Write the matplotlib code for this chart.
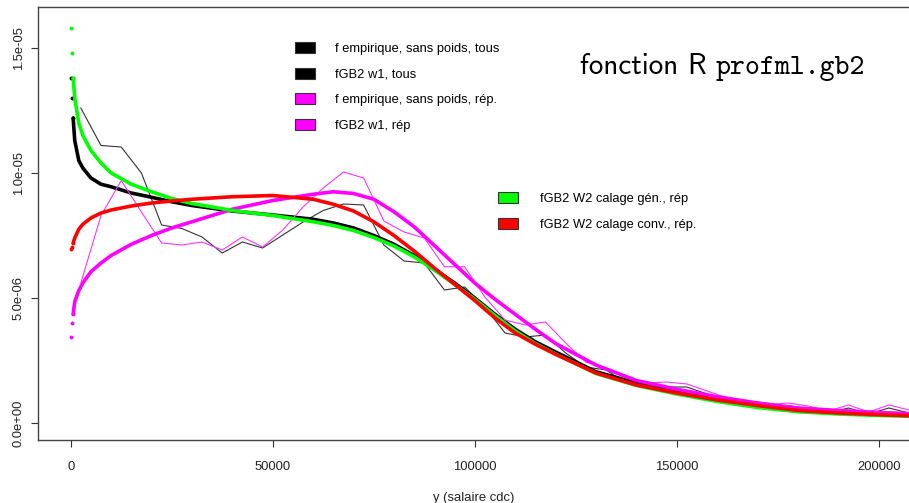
import matplotlib
matplotlib.use("Agg")
import matplotlib.pyplot as plt
from matplotlib.patches import Patch

plt.rcParams['font.family'] = ['Liberation Sans', 'DejaVu Sans']

# smooth fitted curves (x in FCFA, y density)
x_fit = [100, 300, 600, 1000, 2000, 3000, 5000, 7500, 10000, 15000, 20000, 25000, 30000,
         40000, 50000, 60000, 65000, 70000, 75000, 80000, 85000, 90000, 95000, 100000,
         105000, 110000, 115000, 120000, 130000, 140000, 150000, 160000, 170000, 180000,
         190000, 200000, 210000]

gb2_w1_tous = [1.38e-5, 1.30e-5, 1.22e-5, 1.13e-5, 1.05e-5, 1.02e-5, 9.8e-6, 9.55e-6, 9.45e-6,
               9.2e-6, 9.03e-6, 8.85e-6, 8.7e-6, 8.48e-6, 8.32e-6, 8.15e-6, 8.0e-6, 7.8e-6,
               7.5e-6, 7.15e-6, 6.7e-6, 6.15e-6, 5.6e-6, 5.0e-6, 4.35e-6, 3.75e-6, 3.25e-6,
               2.84e-6, 2.05e-6, 1.6e-6, 1.28e-6, 1.0e-6, 0.78e-6, 0.55e-6, 0.44e-6, 0.38e-6,
               0.32e-6]

gb2_w1_rep = [3.45e-6, 4.0e-6, 4.35e-6, 4.85e-6, 5.3e-6, 5.6e-6, 6.05e-6, 6.4e-6, 6.7e-6,
              7.15e-6, 7.5e-6, 7.8e-6, 8.05e-6, 8.55e-6, 8.9e-6, 9.15e-6, 9.25e-6, 9.18e-6,
              8.95e-6, 8.45e-6, 7.85e-6, 7.1e-6, 6.35e-6, 5.6e-6, 4.95e-6, 4.35e-6, 3.75e-6,
              3.18e-6, 2.32e-6, 1.7e-6, 1.35e-6, 1.05e-6, 0.8e-6, 0.6e-6, 0.5e-6, 0.42e-6,
              0.36e-6]

gb2_w2_gen = [1.58e-5, 1.48e-5, 1.38e-5, 1.30e-5, 1.20e-5, 1.15e-5, 1.09e-5, 1.04e-5, 1.0e-5,
              9.55e-6, 9.25e-6, 8.98e-6, 8.78e-6, 8.5e-6, 8.3e-6, 8.05e-6, 7.9e-6, 7.7e-6,
              7.42e-6, 7.08e-6, 6.65e-6, 6.12e-6, 5.55e-6, 4.95e-6, 4.3e-6, 3.68e-6, 3.18e-6,
              2.76e-6, 1.98e-6, 1.5e-6, 1.16e-6, 0.86e-6, 0.62e-6, 0.45e-6, 0.36e-6, 0.3e-6,
              0.26e-6]

gb2_w2_conv = [6.95e-6, 7.05e-6, 7.2e-6, 7.4e-6, 7.75e-6, 7.95e-6, 8.2e-6, 8.4e-6, 8.52e-6,
               8.68e-6, 8.8e-6, 8.88e-6, 8.95e-6, 9.05e-6, 9.1e-6, 8.95e-6, 8.75e-6, 8.48e-6,
               8.05e-6, 7.5e-6, 6.88e-6, 6.2e-6, 5.55e-6, 4.9e-6, 4.2e-6, 3.6e-6, 3.15e-6,
               2.75e-6, 2.0e-6, 1.52e-6, 1.2e-6, 0.92e-6, 0.7e-6, 0.5e-6, 0.4e-6, 0.33e-6,
               0.28e-6]

# empirical densities, bins of 5000
x_emp = [2500 + 5000 * i for i in range(42)]

emp_tous = [1.26e-5, 1.11e-5, 1.104e-5, 1.0e-5, 7.92e-6, 7.78e-6, 7.44e-6, 6.8e-6, 7.24e-6,
            7.0e-6, 7.52e-6, 8.04e-6, 8.5e-6, 8.76e-6, 8.72e-6, 7.12e-6, 6.48e-6, 6.4e-6,
            5.32e-6, 5.44e-6, 4.64e-6, 3.6e-6, 3.44e-6, 3.52e-6, 2.8e-6, 2.24e-6, 2.12e-6,
            1.6e-6, 1.48e-6, 1.44e-6, 1.44e-6, 1.16e-6, 0.96e-6, 0.8e-6, 0.68e-6, 0.7e-6,
            0.56e-6, 0.4e-6, 0.6e-6, 0.36e-6, 0.6e-6, 0.4e-6]

emp_rep = [5.6e-6, 8.3e-6, 9.7e-6, 8.44e-6, 7.2e-6, 7.12e-6, 7.24e-6, 6.92e-6, 7.44e-6,
           7.04e-6, 7.72e-6, 8.64e-6, 9.4e-6, 1.004e-5, 9.8e-6, 8.08e-6, 7.64e-6, 7.4e-6,
           6.25e-6, 6.25e-6, 5.04e-6, 4.12e-6, 3.92e-6, 4.04e-6, 3.2e-6, 2.44e-6, 2.2e-6,
           1.8e-6, 1.6e-6, 1.64e-6, 1.56e-6, 1.28e-6, 1.0e-6, 0.88e-6, 0.72e-6, 0.8e-6,
           0.68e-6, 0.48e-6, 0.72e-6, 0.44e-6, 0.72e-6, 0.52e-6]

xticks = [0, 50000, 100000, 150000, 200000]
yticks = [0, 5e-6, 1e-5, 1.5e-5]
ytick_labels = ["0.0e+00", "5.0e-06", "1.0e-05", "1.5e-05"]

leg1_labels = ["f empirique, sans poids, tous", "fGB2 w1, tous",
               "f empirique, sans poids, rép.", "fGB2 w1, rép"]
leg1_colors = ["black", "black", "#ff00ff", "#ff00ff"]
leg2_labels = ["fGB2 W2 calage gén., rép", "fGB2 W2 calage conv., rép."]
leg2_colors = ["#00ff00", "#ff0000"]

fig = plt.figure(figsize=(9.09, 5.03), dpi=100)
ax = fig.add_axes([37.5 / 909, 1 - 440 / 503, 1 - 37.5 / 909, (440 - 7) / 503])

# first few points near 0 are drawn as sparse dots, the rest as a thick line
n0 = 2

def fitted(ys, color):
    ax.plot(x_fit[n0:], ys[n0:], color=color, lw=2.6, solid_capstyle="round")
    ax.plot(x_fit[:n0 + 1], ys[:n0 + 1], ls="none", marker="o", ms=1.8, color=color)

ax.plot(x_emp, emp_tous, color="#333333", lw=0.8)
fitted(gb2_w1_tous, "black")
ax.plot(x_emp, emp_rep, color="#ff33ff", lw=0.8)
fitted(gb2_w1_rep, "#ff00ff")
fitted(gb2_w2_gen, "#00ff00")
fitted(gb2_w2_conv, "#ff0000")

ax.set_xlim(-8218, 207480)
ax.set_ylim(-6.8e-7, 1.664e-5)

ax.set_xticks(xticks)
ax.set_xticklabels([str(v) for v in xticks])
ax.set_yticks(yticks)
ax.set_yticklabels(ytick_labels, rotation=90, va="center")
ax.tick_params(axis="both", direction="out", length=5, width=0.8, color="#333333",
               labelsize=9.4, labelcolor="#222222")
ax.tick_params(axis="x", pad=10)
ax.tick_params(axis="y", pad=4)
for s in ["left", "bottom", "top"]:
    ax.spines[s].set_color("#444444")
    ax.spines[s].set_linewidth(1)
ax.spines["right"].set_visible(False)

ax.set_xlabel("y (salaire cdc)", fontsize=9.4, color="#222222", labelpad=14)

h1 = [Patch(facecolor=c, edgecolor="#333333", lw=0.8) for c in leg1_colors]
lg1 = ax.legend(h1, leg1_labels, loc="upper left", bbox_to_anchor=(295 / 909, 1 - 42 / 503),
                bbox_transform=fig.transFigure, frameon=False, fontsize=9.3, borderpad=0,
                borderaxespad=0, handlelength=1.55, handleheight=0.95, handletextpad=1.55,
                labelspacing=0.98)
ax.add_artist(lg1)
h2 = [Patch(facecolor=c, edgecolor="#333333", lw=0.8) for c in leg2_colors]
ax.legend(h2, leg2_labels, loc="upper left", bbox_to_anchor=(498 / 909, 1 - 192 / 503),
          bbox_transform=fig.transFigure, frameon=False, fontsize=9.3, borderpad=0,
          borderaxespad=0, handlelength=1.55, handleheight=0.95, handletextpad=1.7,
          labelspacing=0.98)

fig.text(580 / 909, 1 - 74 / 503, "fonction R", family="cmss10", fontsize=21, va="baseline")
fig.text(716 / 909, 1 - 74 / 503, "profml.gb2", family="cmtt10", fontsize=20.5, va="baseline")

fig.savefig("out.png", dpi=100)
